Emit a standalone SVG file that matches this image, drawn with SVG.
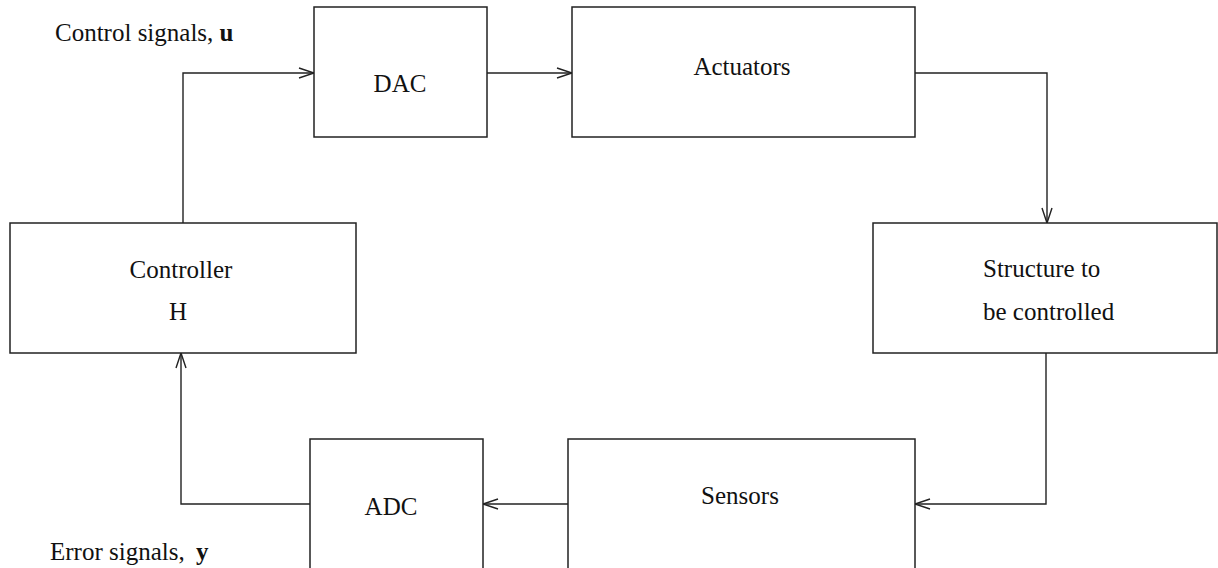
<svg xmlns="http://www.w3.org/2000/svg" width="1218" height="568" viewBox="0 0 1218 568">
<style>
.box{fill:#fff;stroke:#222;stroke-width:1.5}
.lbl{font-family:"Liberation Serif","Times New Roman",serif;font-size:25px;fill:#111}
.c{text-anchor:middle}
.b{font-weight:bold}
.wire{fill:none;stroke:#222;stroke-width:1.4}
</style>
<defs>
<marker id="arr" markerUnits="userSpaceOnUse" markerWidth="20" markerHeight="14" refX="16" refY="7" orient="auto" viewBox="0 0 20 14">
<path d="M1,2 L16,7 L1,12" fill="none" stroke="#222" stroke-width="1.4"/>
</marker>
</defs>
<rect width="1218" height="568" fill="#fff"/>
<g id="connectors">
<path class="wire" d="M183,223 V73 H314" marker-end="url(#arr)"/>
<path class="wire" d="M487,73 H572" marker-end="url(#arr)"/>
<path class="wire" d="M915,73 H1047 V223" marker-end="url(#arr)"/>
<path class="wire" d="M1046,353 V504 H915" marker-end="url(#arr)"/>
<path class="wire" d="M568,504 H483" marker-end="url(#arr)"/>
<path class="wire" d="M310,504 H181 V353" marker-end="url(#arr)"/>
</g>
<g id="dac">
<rect class="box" x="314" y="7" width="173" height="130"/>
<text class="lbl c" x="400" y="92">DAC</text>
</g>
<g id="actuators">
<rect class="box" x="572" y="7" width="343" height="130"/>
<text class="lbl c" x="742" y="75">Actuators</text>
</g>
<g id="controller">
<rect class="box" x="10" y="223" width="346" height="130"/>
<text class="lbl c" x="181" y="278">Controller</text>
<text class="lbl c" x="178" y="320">H</text>
</g>
<g id="structure">
<rect class="box" x="873" y="223" width="344" height="130"/>
<text class="lbl" x="983" y="277">Structure to</text>
<text class="lbl" x="983" y="320">be controlled</text>
</g>
<g id="adc">
<rect class="box" x="310" y="439" width="173" height="135"/>
<text class="lbl c" x="391" y="515">ADC</text>
</g>
<g id="sensors">
<rect class="box" x="568" y="439" width="347" height="135"/>
<text class="lbl c" x="740" y="504">Sensors</text>
</g>
<g id="labels">
<text class="lbl" x="55" y="41">Control signals, <tspan class="b">u</tspan></text>
<text class="lbl" x="50" y="560">Error signals, <tspan class="b" dx="5">y</tspan></text>
</g>
</svg>
